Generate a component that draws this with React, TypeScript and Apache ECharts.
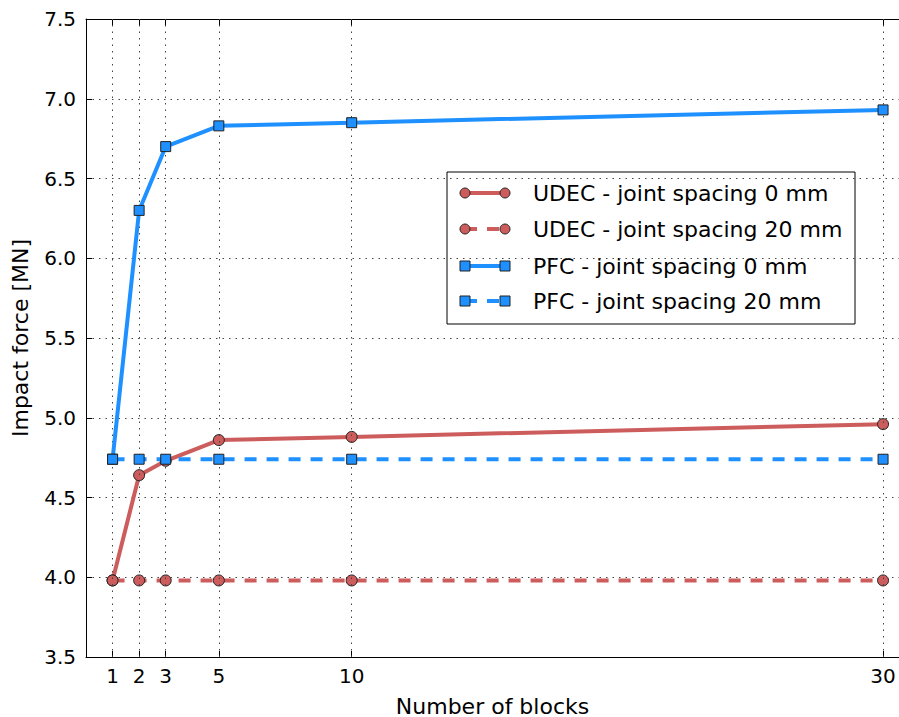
import React, { useEffect, useRef } from "react";
import * as echarts from "echarts";

const blocks = [1, 2, 3, 5, 10, 30];
const udec0 = [3.98, 4.64, 4.73, 4.86, 4.88, 4.96];
const udec20 = [3.98, 3.98, 3.98, 3.98, 3.98, 3.98];
const pfc0 = [4.74, 6.3, 6.7, 6.83, 6.85, 6.93];
const pfc20 = [4.74, 4.74, 4.74, 4.74, 4.74, 4.74];
const seriesNames = [
  "UDEC - joint spacing 0 mm",
  "UDEC - joint spacing 20 mm",
  "PFC - joint spacing 0 mm",
  "PFC - joint spacing 20 mm",
];
const xTitle = "Number of blocks";
const yTitle = "Impact force [MN]";

const RED = "#cd5c5c";
const BLUE = "#1e90ff";
const FONT = "DejaVu Sans";

export default function App() {
  const ref = useRef<HTMLDivElement>(null);
  useEffect(() => {
    if (!ref.current) return;
    const chart = echarts.init(ref.current, null, { renderer: "svg" });
    const pair = (ys: number[]) => blocks.map((x, i) => [x, ys[i]]);
    const defs = [
      { name: seriesNames[0], data: udec0, color: RED, symbol: "circle", size: 11, dashed: false },
      { name: seriesNames[1], data: udec20, color: RED, symbol: "circle", size: 11, dashed: true },
      { name: seriesNames[2], data: pfc0, color: BLUE, symbol: "rect", size: 10, dashed: false },
      { name: seriesNames[3], data: pfc20, color: BLUE, symbol: "rect", size: 10, dashed: true },
    ];
    const series: any[] = defs.map((d, i) => ({
      name: d.name,
      type: "line",
      data: pair(d.data),
      symbol: d.symbol,
      symbolSize: d.size,
      showAllSymbol: true,
      z: 3 + i,
      lineStyle: { color: d.color, width: 4, type: d.dashed ? [12, 10] : "solid" },
      itemStyle: { color: d.color, borderColor: "#222", borderWidth: 1, opacity: 1 },
      emphasis: { disabled: true },
    }));
    series.push({
      type: "line",
      data: [],
      silent: true,
      z: 1,
      markLine: {
        silent: true,
        symbol: ["none", "none"],
        label: { show: false },
        lineStyle: { color: "#444", width: 1, type: [1.5, 5] },
        data: blocks.map((b) => ({ xAxis: b })),
      },
    });

    const rowsY = [193, 229, 266, 301];
    const legendChildren: any[] = [
      {
        type: "rect",
        shape: { x: 447, y: 172, width: 408, height: 152 },
        style: { fill: "#fff", stroke: "#000", lineWidth: 1 },
      },
    ];
    defs.forEach((d, i) => {
      const y = rowsY[i];
      legendChildren.push({
        type: "line",
        shape: { x1: 465, y1: y, x2: 505, y2: y },
        style: { stroke: d.color, lineWidth: 4, lineDash: d.dashed ? [12, 10] : null },
      });
      [465, 505].forEach((x) => {
        if (d.symbol === "circle") {
          legendChildren.push({
            type: "circle",
            shape: { cx: x, cy: y, r: 5 },
            style: { fill: d.color, stroke: "#222", lineWidth: 1 },
          });
        } else {
          legendChildren.push({
            type: "rect",
            shape: { x: x - 5, y: y - 5, width: 10, height: 10 },
            style: { fill: d.color, stroke: "#222", lineWidth: 1 },
          });
        }
      });
      legendChildren.push({
        type: "text",
        x: 533,
        y: y,
        style: {
          text: d.name,
          font: `22px '${FONT}'`,
          fill: "#000",
          verticalAlign: "middle",
          align: "left",
        },
      });
    });

    chart.setOption({
      animation: false,
      backgroundColor: "#fff",
      textStyle: { fontFamily: FONT },
      grid: {
        left: 86,
        top: 19,
        right: 0,
        bottom: 60,
        containLabel: false,
        outerBoundsMode: "none",
      },
      xAxis: [
        {
          type: "value",
          min: 0,
          max: 30.6,
          name: xTitle,
          nameLocation: "middle",
          nameGap: 38,
          nameTextStyle: { fontSize: 22, color: "#000", fontFamily: FONT },
          axisLine: { show: true, lineStyle: { color: "#000", width: 1 } },
          axisTick: {
            show: true,
            inside: true,
            length: 6,
            customValues: blocks,
            lineStyle: { color: "#000" },
          },
          axisLabel: {
            show: true,
            customValues: blocks,
            fontSize: 20,
            color: "#000",
            margin: 9,
            fontFamily: FONT,
          },
          splitLine: { show: false },
        },
        {
          type: "value",
          position: "top",
          min: 0,
          max: 30.6,
          axisLine: { show: true, onZero: false, lineStyle: { color: "#000", width: 1 } },
          axisTick: {
            show: true,
            inside: true,
            length: 6,
            customValues: blocks,
            lineStyle: { color: "#000" },
          },
          axisLabel: { show: false },
          splitLine: { show: false },
        },
      ],
      yAxis: {
        type: "value",
        min: 3.5,
        max: 7.5,
        interval: 0.5,
        name: yTitle,
        nameLocation: "middle",
        nameGap: 55,
        nameTextStyle: { fontSize: 22, color: "#000", fontFamily: FONT },
        axisLine: { show: true, lineStyle: { color: "#000", width: 1 } },
        axisTick: { show: true, inside: true, length: 6, lineStyle: { color: "#000" } },
        axisLabel: {
          fontSize: 20,
          color: "#000",
          margin: 10,
          fontFamily: FONT,
          formatter: (v: number) => v.toFixed(1),
        },
        splitLine: { show: true, lineStyle: { color: "#444", width: 1, type: [1.5, 5] } },
      },
      series,
      graphic: [{ type: "group", z: 100, children: legendChildren }],
    });
    return () => chart.dispose();
  }, []);
  return (
    <div
      ref={ref}
      style={{ position: "fixed", left: 0, top: 0, width: 899, height: 717 }}
    />
  );
}
